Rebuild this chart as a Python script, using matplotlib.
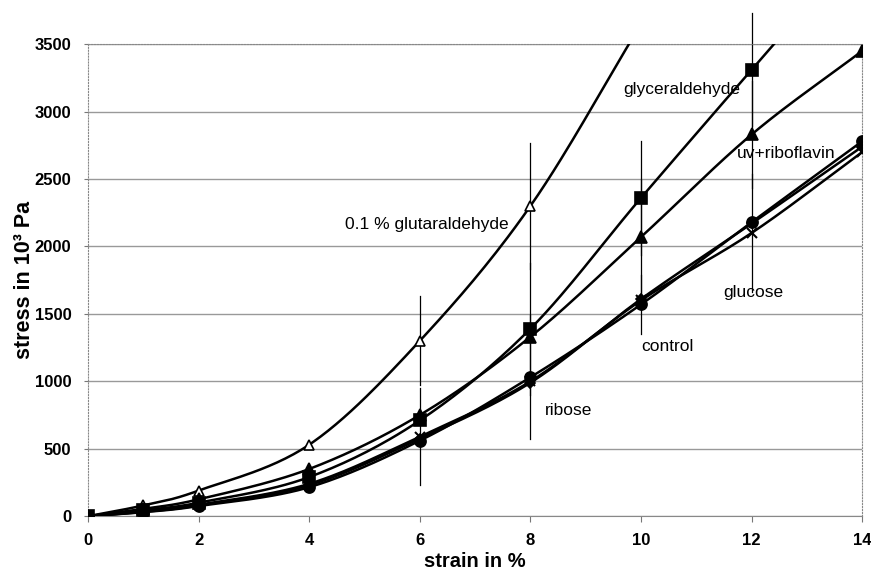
import numpy as np
import matplotlib.pyplot as plt

plt.rcParams['font.family'] = ['Liberation Sans', 'DejaVu Sans']

# strain values (%)
strain = [0, 1, 2, 4, 6, 8, 10, 12, 14]

# stress in 10^3 Pa (points above 3500 run off the top)
glut = [0, 80, 190, 530, 1300, 2300, 3650]
glyc = [0, 45, 100, 290, 710, 1390, 2360, 3310, 4250]
uvribo = [0, 55, 125, 350, 750, 1330, 2070, 2830, 3450]
control = [0, 30, 75, 215, 560, 1030, 1570, 2180, 2780]
glucose = [0, 35, 85, 240, 590, 1000, 1600, 2100, 2700]
ribose = [0, 32, 80, 230, 575, 990, 1610, 2170, 2740]

# error bars (half width), 0 = none drawn
glut_err = [0, 0, 0, 0, 330, 470, 0]
glyc_err = [0, 0, 0, 0, 0, 490, 420, 420, 0]
uvribo_err = [0, 0, 0, 0, 0, 0, 425, 400, 0]
control_err = [0, 0, 0, 0, 0, 460, 220, 0, 0]
glucose_err = [0, 0, 0, 0, 360, 0, 0, 440, 0]

labels = ['0.1 % glutaraldehyde', 'glyceraldehyde', 'uv+riboflavin',
          'glucose', 'control', 'ribose']
label_x = [4.65, 9.67, 11.74, 11.48, 10.0, 8.26]
label_y = [2160, 3160, 2690, 1660, 1255, 780]


def smooth(x, y, n=30):
    # catmull-rom curve through the points, like excel's smoothed line
    x = np.asarray(x, float)
    y = np.asarray(y, float)
    px = np.concatenate([[2 * x[0] - x[1]], x, [2 * x[-1] - x[-2]]])
    py = np.concatenate([[2 * y[0] - y[1]], y, [2 * y[-1] - y[-2]]])
    xs, ys = [], []
    t = np.linspace(0, 1, n)
    for i in range(1, len(px) - 2):
        for p, out in ((px, xs), (py, ys)):
            p0, p1, p2, p3 = p[i - 1], p[i], p[i + 1], p[i + 2]
            out.append(0.5 * ((2 * p1) + (-p0 + p2) * t
                              + (2 * p0 - 5 * p1 + 4 * p2 - p3) * t ** 2
                              + (-p0 + 3 * p1 - 3 * p2 + p3) * t ** 3))
    return np.concatenate(xs), np.concatenate(ys)


fig = plt.figure(figsize=(8.71, 5.8), dpi=100)
ax = fig.add_axes([0.101, 0.110, 0.889, 0.814])

series = [
    (glut, glut_err, '^', 'white', 7),
    (glyc, glyc_err, 's', 'black', 8),
    (uvribo, uvribo_err, '^', 'black', 8),
    (glucose, glucose_err, 'x', 'black', 7),
    (ribose, None, 'D', 'black', 5),
    (control, control_err, 'o', 'black', 8),
]

for vals, err, mk, fc, ms in series:
    xv = strain[:len(vals)]
    sx, sy = smooth(xv, vals)
    ax.plot(sx, sy, color='black', lw=1.8, zorder=3)
    ax.plot(xv, vals, linestyle='none', marker=mk, ms=ms, mfc=fc,
            mec='black', mew=1.2 if mk != 'x' else 1.5, zorder=4)
    if err is not None:
        for xi, yi, e in zip(xv, vals, err):
            if e > 0:
                ax.plot([xi, xi], [yi - e, yi + e], color='black', lw=0.9,
                        zorder=2, clip_on=False)

for txt, tx, ty in zip(labels, label_x, label_y):
    ax.text(tx, ty, txt, fontsize=12.5, va='center', ha='left', zorder=5)

ax.set_xlim(0, 14)
ax.set_ylim(0, 3500)
ax.set_xticks(range(0, 15, 2))
ax.set_yticks(range(0, 3501, 500))
ax.yaxis.grid(True, color='#999999', lw=1)
ax.set_axisbelow(True)
ax.tick_params(axis='y', length=3, direction='out', color='#777777', pad=9)
ax.tick_params(axis='x', length=4, direction='out', color='#777777', pad=8)
for lab in ax.get_xticklabels() + ax.get_yticklabels():
    lab.set_fontweight('bold')
    lab.set_fontsize(12)
for side in ['left', 'top', 'right']:
    ax.spines[side].set_linestyle(':')
    ax.spines[side].set_color('#888888')
ax.spines['bottom'].set_color('#888888')

ax.set_xlabel('strain in %', fontsize=14.5, fontweight='bold', labelpad=3)
ax.set_ylabel('stress in 10³ Pa', fontsize=15.5, fontweight='bold', labelpad=0)

plt.savefig('out.png', dpi=100)
